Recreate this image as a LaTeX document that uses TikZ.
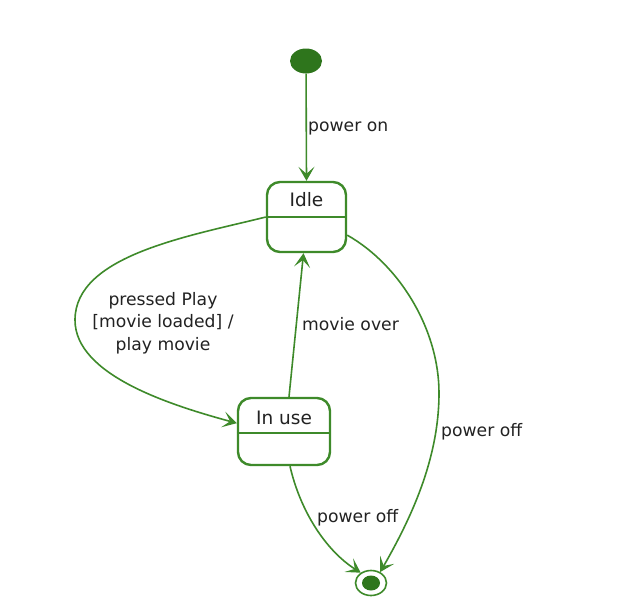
\documentclass[tikz,border=0pt]{standalone}
\usepackage{fontspec}
\setmainfont{DejaVu Sans}
\usetikzlibrary{arrows.meta,calc,shapes.geometric}
\definecolor{umlgreen}{RGB}{62,138,42}
\definecolor{umldark}{RGB}{46,117,28}
\definecolor{txt}{RGB}{34,34,34}
\begin{document}
\begin{tikzpicture}[x=1pt,y=-1pt,
  statebox/.style={draw=umlgreen, line width=2.4pt, rounded corners=13pt, fill=white, inner sep=0pt},
  divider/.style={draw=umlgreen, line width=2.2pt},
  statename/.style={text=txt, inner sep=0pt, font=\fontsize{18.5}{22}\selectfont},
  translabel/.style={text=txt, inner sep=0pt, font=\fontsize{17.2}{22.5}\selectfont},
  trans/.style={draw=umlgreen, line width=1.6pt, -{Stealth[length=14pt,width=16pt,inset=7pt]}},
  startstate/.style={ellipse, fill=umldark, draw=none, inner sep=0pt, minimum width=32pt, minimum height=25pt},
  endouter/.style={ellipse, fill=white, draw=umlgreen, line width=1.6pt, inner sep=0pt, minimum width=31pt, minimum height=25pt},
  endinner/.style={ellipse, fill=umldark, draw=none, inner sep=0pt, minimum width=18pt, minimum height=15pt}
]
\useasboundingbox[fill=white] (0,0) rectangle (623,613);

% states
\node[startstate] (start) at (306,61) {};
\node[statebox, minimum width=79pt, minimum height=70pt] (idle) at (306.5,217) {};
\draw[divider] (idle.west) -- (idle.east);
\node[statename] (idletxt) at (306.5,200) {Idle};

\node[statebox, minimum width=92pt, minimum height=67pt] (inuse) at (284,431.5) {};
\draw[divider] ($(inuse.west)+(0,1.5)$) -- ($(inuse.east)+(0,1.5)$);
\node[statename] (inusetxt) at (284,418) {In use};

\node[endouter] (finalo) at (371,583) {};
\node[endinner] (finali) at (371,583) {};

% bend points
\coordinate (lbend) at (75,320);
\coordinate (rbend) at (439,393);

% transitions
\draw[trans] (start) -- (idle.north);
\draw[trans] (idle.west) .. controls (190,236) and (75,255) .. (lbend)
  .. controls (75,375) and (170,405) .. (inuse.170);
\draw[trans] ($(inuse.north)+(5,0)$) -- ($(idle.south)+(-3,0)$);
\draw[trans] (idle.-24) .. controls (400,265) and (439,330) .. (rbend)
  .. controls (439,460) and (410,520) .. (finalo.50);
\draw[trans] ($(inuse.south)+(6,0)$) .. controls (300,510) and (325,550) .. (finalo.135);

% labels
\node[translabel, anchor=west] (lpoweron) at (308,128) {power on};
\node[translabel, align=center] (lplay) at (163,323) {pressed Play\\{}[movie loaded] /\\play movie};
\node[translabel, anchor=west] (lover) at (302,324) {movie over};
\node[translabel, anchor=west] (loff1) at (441,432) {power off};
\node[translabel, anchor=west] (loff2) at (317,518) {power off};
\end{tikzpicture}
\end{document}
